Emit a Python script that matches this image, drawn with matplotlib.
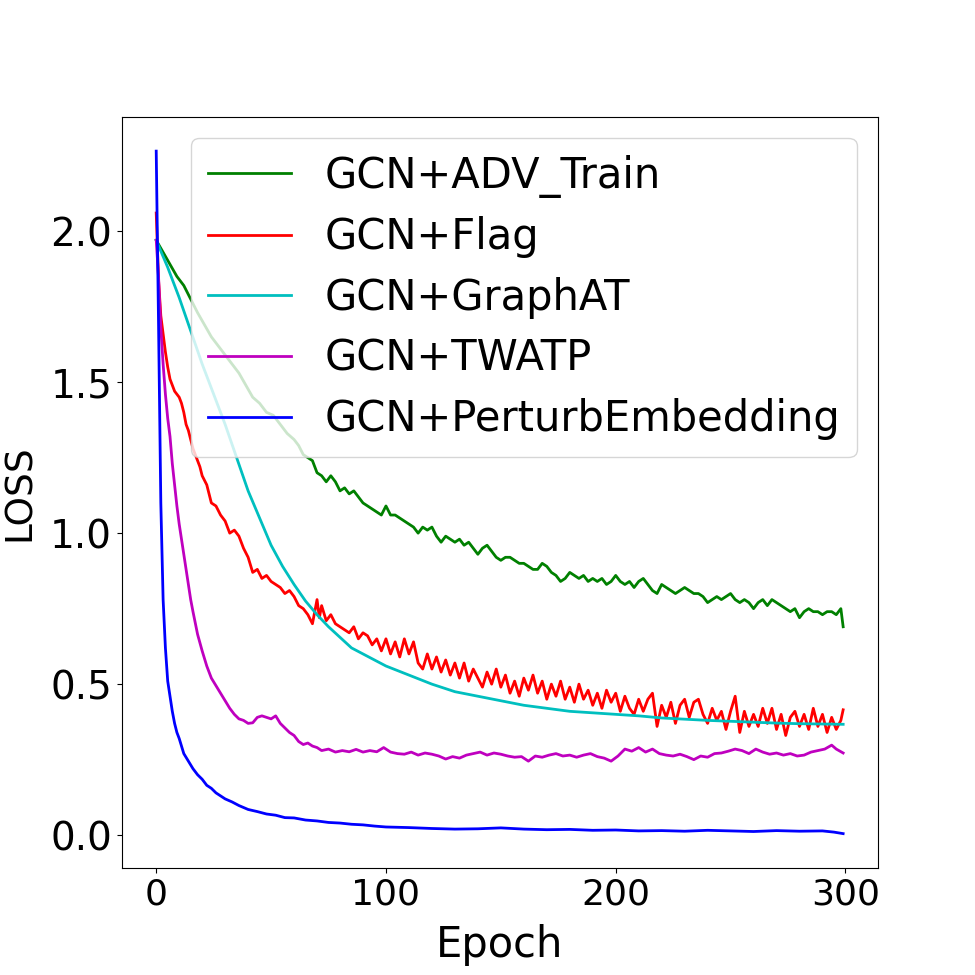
import matplotlib
matplotlib.use("Agg")
import matplotlib.pyplot as plt

labels = ["GCN+ADV_Train", "GCN+Flag", "GCN+GraphAT", "GCN+TWATP", "GCN+PerturbEmbedding"]
colors = ["g", "r", "c", "m", "b"]

adv_x = [0, 3, 6, 9, 12, 14, 16, 18, 21, 24, 27, 30, 33, 36, 39, 42, 45, 48, 51, 54, 57, 60, 62, 64, 66, 68,
         70, 72, 74, 76, 78, 80, 82, 84, 86, 88, 90, 92, 94, 96, 98, 100, 102, 104, 106, 108, 110, 112, 114,
         116, 118, 120, 122, 124, 126, 128, 130, 132, 134, 136, 138, 140, 142, 144, 146, 148, 150, 152, 154,
         156, 158, 160, 162, 164, 166, 168, 170, 172, 174, 176, 178, 180, 182, 184, 186, 188, 190, 192, 194,
         196, 198, 200, 202, 204, 206, 208, 210, 212, 214, 216, 218, 220, 222, 224, 226, 228, 230, 232, 234,
         236, 238, 240, 242, 244, 246, 248, 250, 252, 254, 256, 258, 260, 262, 264, 266, 268, 270, 272, 274,
         276, 278, 280, 282, 284, 286, 288, 290, 292, 294, 296, 298, 299]
adv_y = [1.97, 1.93, 1.89, 1.85, 1.82, 1.79, 1.76, 1.73, 1.69, 1.65, 1.62, 1.59, 1.56, 1.53, 1.49, 1.45, 1.43,
         1.40, 1.39, 1.36, 1.33, 1.31, 1.29, 1.26, 1.25, 1.24, 1.20, 1.19, 1.17, 1.19, 1.17, 1.14, 1.15, 1.13,
         1.14, 1.12, 1.10, 1.09, 1.08, 1.07, 1.06, 1.09, 1.06, 1.06, 1.05, 1.04, 1.03, 1.02, 1.00, 1.02, 1.01,
         1.02, 0.99, 0.97, 0.99, 0.98, 0.97, 0.98, 0.96, 0.97, 0.95, 0.93, 0.95, 0.96, 0.94, 0.92, 0.91, 0.92,
         0.92, 0.91, 0.90, 0.90, 0.89, 0.88, 0.88, 0.90, 0.89, 0.87, 0.86, 0.84, 0.85, 0.87, 0.86, 0.85, 0.86,
         0.84, 0.85, 0.84, 0.85, 0.83, 0.84, 0.86, 0.84, 0.83, 0.84, 0.82, 0.84, 0.85, 0.83, 0.81, 0.80, 0.83,
         0.82, 0.81, 0.80, 0.81, 0.82, 0.81, 0.80, 0.80, 0.79, 0.77, 0.78, 0.79, 0.78, 0.79, 0.80, 0.78, 0.77,
         0.78, 0.77, 0.75, 0.77, 0.78, 0.76, 0.78, 0.77, 0.76, 0.75, 0.74, 0.75, 0.72, 0.74, 0.75, 0.74, 0.74,
         0.73, 0.74, 0.74, 0.73, 0.75, 0.69]

flag_x = [0, 1, 2, 3, 4, 5, 6, 7, 8, 9, 10, 11, 12, 13, 14, 15, 16, 17, 18, 19, 20, 22, 24, 26, 28, 30, 32,
          34, 36, 38, 40, 42, 44, 46, 48, 50, 52, 54, 56, 58, 60, 62, 64, 66, 68, 70, 71, 72, 74, 76, 78, 80,
          82, 84, 86, 88, 90, 92, 94, 96, 98, 100, 102, 104, 106, 108, 110, 112, 114, 116, 118, 120, 122, 124,
          126, 128, 130, 132, 134, 136, 138, 140, 142, 144, 146, 148, 150, 152, 154, 156, 158, 160, 162, 164,
          166, 168, 170, 172, 174, 176, 178, 180, 182, 184, 186, 188, 190, 192, 194, 196, 198, 200, 202, 204,
          206, 208, 210, 212, 214, 216, 218, 220, 222, 224, 226, 228, 230, 232, 234, 236, 238, 240, 242, 244,
          246, 248, 250, 252, 254, 256, 258, 260, 262, 264, 266, 268, 270, 272, 274, 276, 278, 280, 282, 284,
          286, 288, 290, 292, 294, 296, 298, 299]
flag_y = [2.06, 1.84, 1.72, 1.66, 1.60, 1.55, 1.51, 1.49, 1.47, 1.46, 1.45, 1.43, 1.40, 1.36, 1.34, 1.31,
          1.28, 1.26, 1.24, 1.22, 1.19, 1.16, 1.10, 1.09, 1.06, 1.04, 1.00, 1.01, 0.99, 0.95, 0.92, 0.87, 0.88,
          0.85, 0.86, 0.84, 0.83, 0.82, 0.80, 0.81, 0.79, 0.76, 0.75, 0.73, 0.70, 0.78, 0.72, 0.76, 0.71, 0.73,
          0.70, 0.69, 0.68, 0.67, 0.69, 0.65, 0.67, 0.66, 0.63, 0.65, 0.61, 0.65, 0.60, 0.64, 0.59, 0.65, 0.60,
          0.64, 0.57, 0.55, 0.60, 0.55, 0.59, 0.54, 0.58, 0.53, 0.57, 0.52, 0.57, 0.51, 0.55, 0.52, 0.49, 0.54,
          0.50, 0.55, 0.49, 0.53, 0.47, 0.51, 0.46, 0.52, 0.48, 0.53, 0.47, 0.51, 0.45, 0.50, 0.46, 0.51, 0.45,
          0.49, 0.44, 0.50, 0.45, 0.48, 0.43, 0.47, 0.42, 0.48, 0.44, 0.47, 0.41, 0.46, 0.42, 0.40, 0.45, 0.41,
          0.45, 0.47, 0.36, 0.43, 0.39, 0.44, 0.37, 0.43, 0.45, 0.39, 0.44, 0.45, 0.40, 0.37, 0.42, 0.38, 0.41,
          0.35, 0.41, 0.46, 0.34, 0.41, 0.36, 0.40, 0.36, 0.42, 0.37, 0.42, 0.35, 0.40, 0.33, 0.39, 0.41, 0.36,
          0.40, 0.35, 0.42, 0.36, 0.40, 0.34, 0.39, 0.35, 0.38, 0.415]

gat_x = [0, 5, 10, 15, 20, 25, 30, 35, 40, 45, 50, 55, 60, 65, 70, 75, 80, 85, 90, 95, 100, 110, 120, 130,
         140, 150, 160, 170, 180, 190, 200, 210, 220, 230, 240, 250, 260, 270, 280, 290, 299]
gat_y = [1.97, 1.88, 1.78, 1.67, 1.56, 1.46, 1.36, 1.25, 1.14, 1.05, 0.96, 0.89, 0.83, 0.775, 0.73, 0.69,
         0.655, 0.62, 0.60, 0.58, 0.56, 0.53, 0.50, 0.475, 0.46, 0.445, 0.43, 0.42, 0.41, 0.405, 0.40, 0.395,
         0.388, 0.384, 0.38, 0.377, 0.374, 0.371, 0.369, 0.368, 0.367]

twatp_x = [0, 1, 2, 3, 4, 5, 6, 7, 8, 9, 10, 11, 12, 13, 14, 15, 16, 18, 20, 22, 24, 26, 28, 30, 32, 34, 36,
           38, 40, 42, 44, 46, 48, 50, 52, 54, 56, 58, 60, 62, 64, 66, 68, 70, 72, 75, 78, 81, 84, 87, 90, 93,
           96, 99, 102, 105, 108, 111, 114, 117, 120, 123, 126, 129, 132, 135, 138, 141, 144, 147, 150, 153,
           156, 159, 162, 165, 168, 171, 174, 177, 180, 183, 186, 189, 192, 195, 198, 201, 204, 207, 210, 213,
           216, 219, 222, 225, 228, 231, 234, 237, 240, 243, 246, 249, 252, 255, 258, 261, 264, 267, 270, 273,
           276, 279, 282, 285, 288, 291, 294, 296, 299]
twatp_y = [1.97, 1.85, 1.68, 1.56, 1.46, 1.38, 1.32, 1.23, 1.16, 1.09, 1.03, 0.98, 0.93, 0.88, 0.83, 0.78,
           0.74, 0.665, 0.61, 0.56, 0.52, 0.495, 0.47, 0.445, 0.42, 0.40, 0.385, 0.38, 0.37, 0.372, 0.39,
           0.395, 0.39, 0.385, 0.395, 0.37, 0.355, 0.34, 0.33, 0.31, 0.30, 0.305, 0.295, 0.29, 0.28, 0.285,
           0.275, 0.28, 0.276, 0.284, 0.275, 0.28, 0.276, 0.29, 0.275, 0.27, 0.268, 0.275, 0.265, 0.272, 0.268,
           0.262, 0.252, 0.26, 0.255, 0.265, 0.27, 0.275, 0.265, 0.272, 0.268, 0.262, 0.258, 0.26, 0.245, 0.262,
           0.258, 0.265, 0.27, 0.262, 0.265, 0.258, 0.265, 0.27, 0.26, 0.255, 0.245, 0.262, 0.285, 0.278, 0.29,
           0.275, 0.285, 0.27, 0.265, 0.262, 0.268, 0.26, 0.25, 0.262, 0.258, 0.27, 0.272, 0.278, 0.285, 0.28,
           0.27, 0.285, 0.275, 0.268, 0.272, 0.265, 0.27, 0.262, 0.265, 0.275, 0.28, 0.285, 0.298, 0.285, 0.272]

pe_x = [0, 1, 2, 3, 4, 5, 6, 7, 8, 9, 10, 12, 14, 16, 18, 20, 22, 24, 26, 28, 30, 33, 36, 40, 44, 48, 52, 56,
        60, 65, 70, 75, 80, 85, 90, 95, 100, 110, 120, 130, 140, 150, 160, 170, 180, 190, 200, 210, 220, 230,
        240, 250, 260, 270, 280, 290, 295, 299]
pe_y = [2.265, 1.70, 1.10, 0.78, 0.62, 0.51, 0.46, 0.41, 0.37, 0.34, 0.32, 0.27, 0.245, 0.22, 0.20, 0.185,
        0.165, 0.155, 0.14, 0.13, 0.12, 0.11, 0.098, 0.085, 0.078, 0.07, 0.066, 0.058, 0.057, 0.05, 0.047,
        0.042, 0.04, 0.036, 0.034, 0.03, 0.027, 0.025, 0.022, 0.02, 0.021, 0.024, 0.02, 0.018, 0.019, 0.016,
        0.017, 0.014, 0.015, 0.013, 0.016, 0.014, 0.012, 0.015, 0.013, 0.014, 0.01, 0.005]

series = [(adv_x, adv_y), (flag_x, flag_y), (gat_x, gat_y), (twatp_x, twatp_y), (pe_x, pe_y)]

fig, ax = plt.subplots(figsize=(9.75, 9.75), dpi=100)
for (xs, ys), lab, col in zip(series, labels, colors):
    ax.plot(xs, ys, color=col, linewidth=2, label=lab)

ax.set_xticks([0, 100, 200, 300])
ax.set_yticks([0.0, 0.5, 1.0, 1.5, 2.0])
ax.tick_params(axis="x", labelsize=26)
ax.tick_params(axis="y", labelsize=28)
ax.set_xlabel("Epoch", fontsize=30, labelpad=9)
ax.set_ylabel("LOSS", fontsize=27, labelpad=9)
ax.legend(loc="upper right", fontsize=30, labelspacing=0.45)

fig.savefig("out.png", dpi=100)
